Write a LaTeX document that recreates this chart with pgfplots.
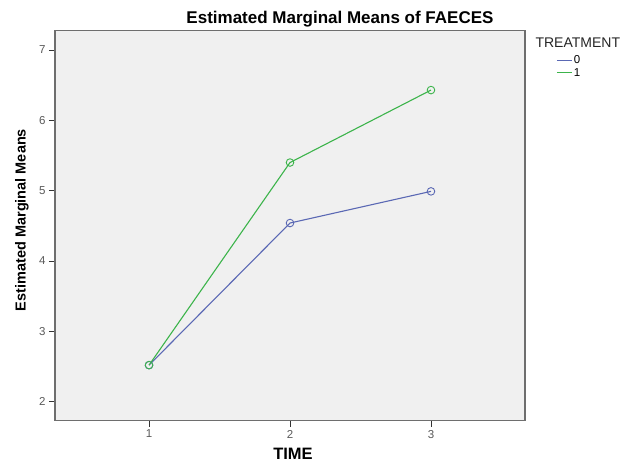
\documentclass[border=0pt]{standalone}
\usepackage{fontspec}
\setmainfont{Liberation Sans}
\usepackage{pgfplots}
\pgfplotsset{compat=1.18}
\definecolor{lineblue}{HTML}{5A68B4}
\definecolor{linegreen}{HTML}{3CB44B}
\definecolor{bggray}{HTML}{F0F0F0}
\definecolor{framegray}{HTML}{6E6E6E}
\begin{document}
\begin{tikzpicture}[x=1pt,y=1pt]
\path[use as bounding box] (0,0) rectangle (620,463);
\begin{axis}[
  at={(55pt,42.5pt)}, anchor=south west,
  width=470pt, height=390pt, scale only axis,
  xmin=0.333, xmax=3.667, ymin=1.733, ymax=7.277,
  xtick={1,2,3}, ytick={2,3,4,5,6,7},
  axis background/.style={fill=bggray},
  axis line style={framegray, line width=1.3pt},
  tick align=outside, major tick length=6pt,
  tick style={black!80, line width=0.7pt},
  xtick pos=bottom, ytick pos=left,
  ticklabel style={font=\fontsize{11.5}{13}\selectfont, text=black!65},
  /pgf/number format/assume math mode=true,
  legend style={at={(rel axis cs:1.066,0.94)}, anchor=north west, draw=none, fill=none,
    font=\fontsize{11.5}{12}\selectfont, row sep=0pt, inner sep=0pt,
    nodes={inner sep=1.5pt}},
  legend cell align=left,
  legend image code/.code={\draw[#1] (0pt,0pt) -- (15pt,0pt);},
  clip=false,
]
\addlegendimage{lineblue, line width=1.1pt}
\addlegendentry{0}
\addlegendimage{linegreen, line width=1.1pt}
\addlegendentry{1}
\addplot[lineblue, line width=1.1pt, mark=o, mark size=3.8pt, mark options={line width=0.9pt}, forget plot]
  coordinates {(1,2.52) (2,4.54) (3,4.99)};
\addplot[linegreen, line width=1.1pt, mark=o, mark size=3.8pt, mark options={line width=0.9pt}, forget plot]
  coordinates {(1,2.52) (2,5.40) (3,6.43)};
\end{axis}
\node[anchor=base, font=\bfseries\fontsize{17}{19}\selectfont] at (340,439) {Estimated Marginal Means of FAECES};
\node[anchor=west, font=\fontsize{14}{16}\selectfont, text=black!85] at (532,420) {TREATMENT};
\node[anchor=center, rotate=90, font=\bfseries\fontsize{14.5}{16}\selectfont] at (22,243) {Estimated Marginal Means};
\node[anchor=base, font=\bfseries\fontsize{16.5}{19}\selectfont] at (293,4) {TIME};
\end{tikzpicture}
\end{document}
